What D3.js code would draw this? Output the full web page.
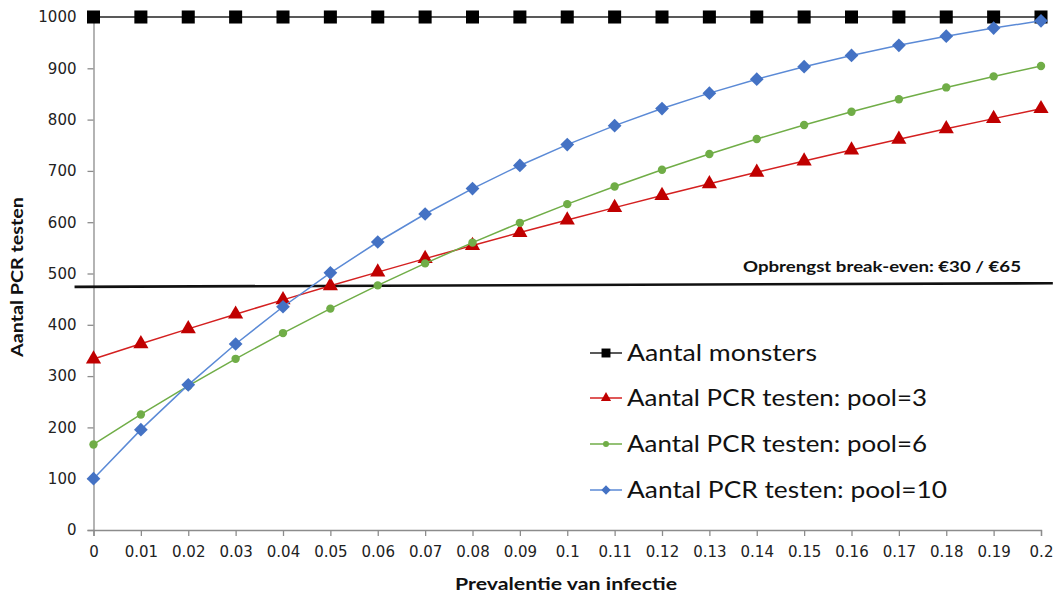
<!DOCTYPE html>
<html>
<head>
<meta charset="utf-8">
<script src="https://cdn.jsdelivr.net/npm/d3@7"></script>
<style>
  html, body { margin: 0; padding: 0; background: #ffffff; }
  svg { display: block; }
</style>
</head>
<body>
<svg id="chart" width="1055" height="598"></svg>
<script>
// Prevalence of infection (x categories)
const prevalence = [0, 0.01, 0.02, 0.03, 0.04, 0.05, 0.06, 0.07, 0.08, 0.09, 0.1,
  0.11, 0.12, 0.13, 0.14, 0.15, 0.16, 0.17, 0.18, 0.19, 0.2];
const xTickLabels = ["0", "0.01", "0.02", "0.03", "0.04", "0.05", "0.06", "0.07", "0.08", "0.09", "0.1",
  "0.11", "0.12", "0.13", "0.14", "0.15", "0.16", "0.17", "0.18", "0.19", "0.2"];

// Number of samples and PCR tests needed per 1000 samples
const samples = [1000, 1000, 1000, 1000, 1000, 1000, 1000, 1000, 1000, 1000, 1000,
  1000, 1000, 1000, 1000, 1000, 1000, 1000, 1000, 1000, 1000];
const pool3 = [333.3, 363.0, 392.1, 420.7, 448.6, 476.0, 502.7, 529.0, 554.6, 579.8, 604.3,
  628.4, 651.9, 674.8, 697.3, 719.2, 740.6, 761.5, 782.0, 801.9, 821.3];
const pool6 = [166.7, 225.2, 280.8, 333.7, 383.9, 431.6, 476.8, 519.7, 560.3, 598.8, 635.2,
  669.7, 702.3, 733.0, 762.1, 789.5, 815.4, 839.7, 862.7, 884.2, 904.5];
const pool10 = [100.0, 195.6, 282.9, 362.6, 435.2, 501.3, 561.4, 616.0, 665.6, 710.6, 751.3,
  788.2, 821.5, 851.6, 878.7, 903.1, 925.1, 944.8, 962.6, 978.4, 992.6];

const yTicks = [0, 100, 200, 300, 400, 500, 600, 700, 800, 900, 1000];

// Break-even reference line (end points) and its label
const breakEvenP = [-0.004, 0.2025];
const breakEvenV = [474, 481];
const breakEvenLabel = "Opbrengst break-even: €30 / €65";

const seriesNames = ["Aantal monsters", "Aantal PCR testen: pool=3",
  "Aantal PCR testen: pool=6", "Aantal PCR testen: pool=10"];

const svg = d3.select("#chart");
const x = d3.scaleLinear().domain([0, 0.2]).range([93.5, 1041]);
const y = d3.scaleLinear().domain([0, 1000]).range([530, 17]);

const tickFont = "'DejaVu Sans', Verdana, sans-serif";
const titleFont = "Lato, 'Open Sans', sans-serif";
const axisColor = "#8c8c8c";

// Y axis
const yAxis = svg.append("g").attr("transform", `translate(${x(0)},0)`)
  .call(d3.axisLeft(y).tickValues(yTicks).tickSize(6).tickPadding(11).tickFormat(d3.format("d")));
yAxis.select(".domain").attr("stroke", axisColor).attr("stroke-width", 1.3);
yAxis.selectAll(".tick line").attr("stroke", axisColor).attr("stroke-width", 1.3);
yAxis.selectAll(".tick text").attr("font-family", tickFont).attr("font-size", 15)
  .attr("fill", "#222");

// X axis
const xAxis = svg.append("g").attr("transform", `translate(0,${y(0)})`)
  .call(d3.axisBottom(x).tickValues(prevalence).tickSize(6).tickPadding(10)
    .tickFormat((d, i) => xTickLabels[i]));
xAxis.select(".domain").attr("stroke", axisColor).attr("stroke-width", 1.3);
xAxis.selectAll(".tick line").attr("stroke", axisColor).attr("stroke-width", 1.3);
xAxis.selectAll(".tick text").attr("font-family", tickFont).attr("font-size", 15)
  .attr("fill", "#222");

// Axis titles
svg.append("text").attr("x", 566).attr("y", 590).attr("text-anchor", "middle")
  .attr("font-family", titleFont).attr("font-weight", "bold").attr("font-size", 17)
  .attr("textLength", 222).attr("lengthAdjust", "spacingAndGlyphs")
  .attr("fill", "#111").text("Prevalentie van infectie");
svg.append("text").attr("transform", "translate(23,277) rotate(-90)").attr("text-anchor", "middle")
  .attr("font-family", titleFont).attr("font-weight", "bold").attr("font-size", 17)
  .attr("textLength", 160).attr("lengthAdjust", "spacingAndGlyphs")
  .attr("fill", "#111").text("Aantal PCR testen");

// Break-even line
svg.append("line")
  .attr("x1", x(breakEvenP[0])).attr("y1", y(breakEvenV[0]))
  .attr("x2", x(breakEvenP[1])).attr("y2", y(breakEvenV[1]))
  .attr("stroke", "#111").attr("stroke-width", 2.6);
svg.append("text").attr("x", 1021).attr("y", 272).attr("text-anchor", "end")
  .attr("font-family", titleFont).attr("font-weight", "bold").attr("font-size", 15)
  .attr("textLength", 278).attr("lengthAdjust", "spacingAndGlyphs")
  .attr("fill", "#111").text(breakEvenLabel);

// Series definitions
const series = [
  { name: seriesNames[0], values: samples, color: "#000000", line: "#222222", symbol: d3.symbolSquare, size: 170, legendSize: 80 },
  { name: seriesNames[1], values: pool3, color: "#C00000", line: "#D42020", symbol: d3.symbolTriangle, size: 100, legendSize: 45 },
  { name: seriesNames[2], values: pool6, color: "#70AD47", line: "#70AD47", symbol: d3.symbolCircle, size: 55, legendSize: 28 },
  { name: seriesNames[3], values: pool10, color: "#4472C4", line: "#5B8AD6", symbol: d3.symbolDiamond2, size: 120, legendSize: 55 }
];

const lineGen = d3.line().x(d => x(d[0])).y(d => y(d[1]));

series.forEach(s => {
  const pts = prevalence.map((p, i) => [p, s.values[i]]);
  const g = svg.append("g");
  g.append("path").datum(pts).attr("d", lineGen)
    .attr("fill", "none").attr("stroke", s.line).attr("stroke-width", 1.5);
  g.selectAll("path.pt").data(pts).join("path").attr("class", "pt")
    .attr("transform", d => `translate(${x(d[0])},${y(d[1])})`)
    .attr("d", d3.symbol().type(s.symbol).size(s.size))
    .attr("fill", s.color);
});

// Legend
const legendY = [353, 398, 444, 490];
const legendWidths = [190, 300, 300, 320];
const legend = svg.append("g");
series.forEach((s, i) => {
  const row = legend.append("g").attr("transform", `translate(590,${legendY[i]})`);
  row.append("line").attr("x1", 0).attr("x2", 32).attr("y1", 0).attr("y2", 0)
    .attr("stroke", s.line).attr("stroke-width", 1.5);
  row.append("path").attr("transform", "translate(16,0)")
    .attr("d", d3.symbol().type(s.symbol).size(s.legendSize)).attr("fill", s.color);
  row.append("text").attr("x", 37).attr("y", 8)
    .attr("font-family", titleFont).attr("font-size", 23)
    .attr("textLength", legendWidths[i]).attr("lengthAdjust", "spacingAndGlyphs")
    .attr("fill", "#111").text(s.name);
});
</script>
</body>
</html>
